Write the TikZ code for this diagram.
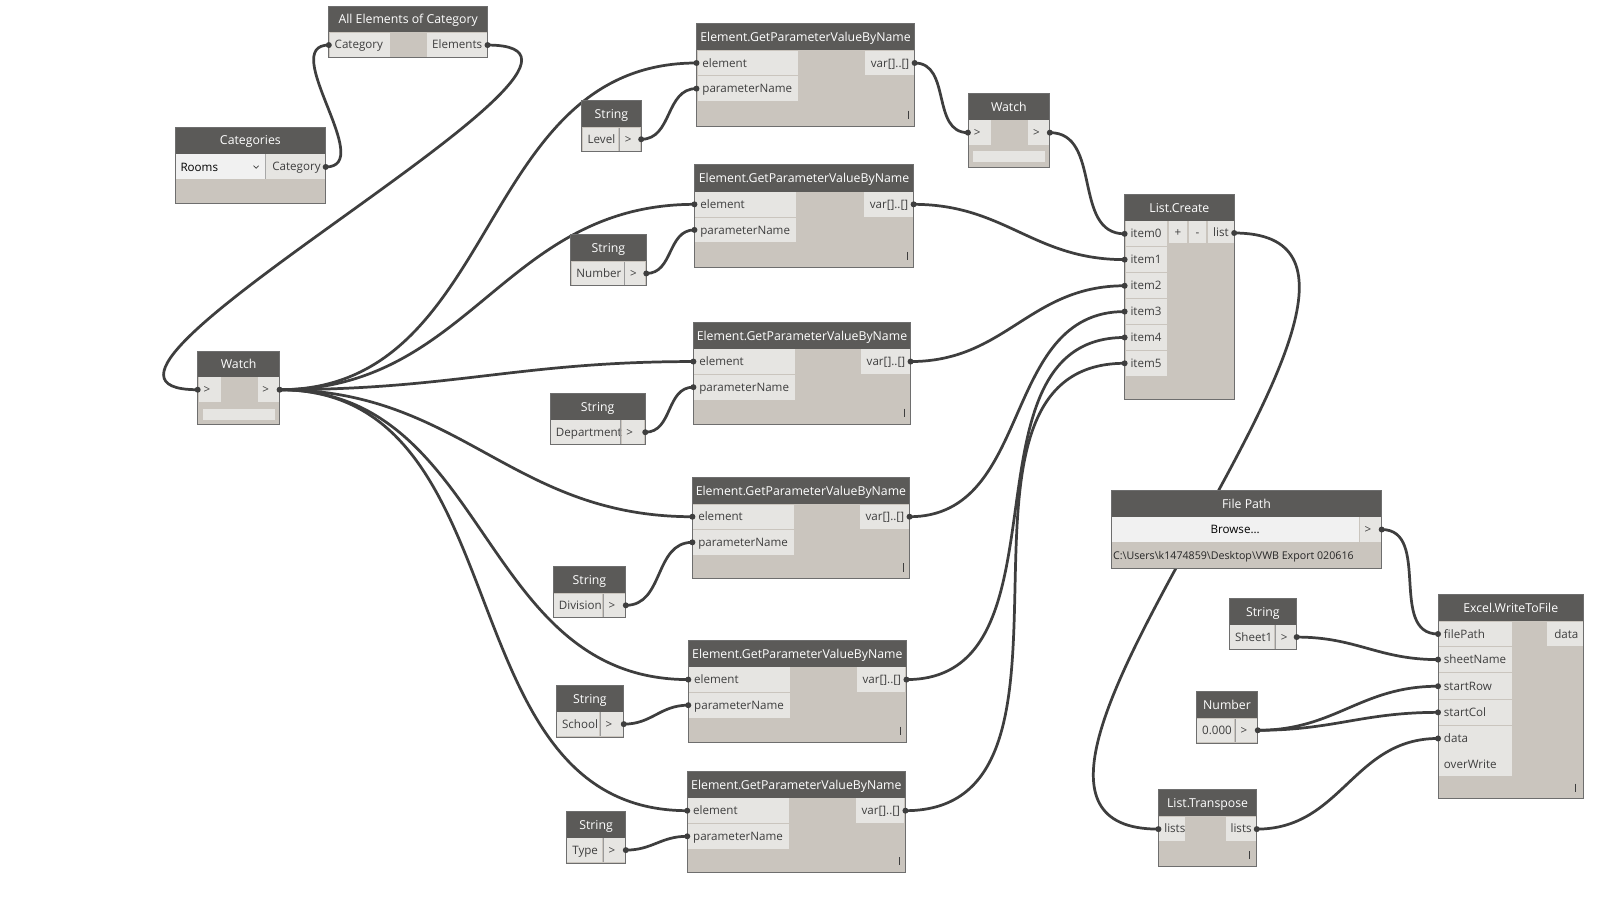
\documentclass[tikz,border=0pt]{standalone}
\usepackage{fontspec}
\setmainfont{Open Sans}
\usetikzlibrary{calc,fit}
\definecolor{hdr}{RGB}{91,90,88}
\definecolor{bodyc}{RGB}{202,197,190}
\definecolor{cellc}{RGB}{230,229,226}
\definecolor{btnc}{RGB}{241,241,241}
\definecolor{edgec}{RGB}{110,110,110}
\definecolor{txtc}{RGB}{62,62,62}
\definecolor{wirec}{RGB}{62,62,62}
\newcount\tncount
\tikzset{
  dbody/.style={inner sep=0pt,outer sep=0pt,fill=bodyc},
  htext/.style={text=white,font=\fontsize{9}{10}\selectfont,inner sep=0pt},
  ptext/.style={text=txtc,font=\fontsize{8.5}{10}\selectfont,inner sep=0pt},
  pathtext/.style={text=black!85,font=\fontsize{7.8}{9}\selectfont,inner sep=0pt},
  wire/.style={draw=wirec,line width=2pt},
  edgeline/.style={draw=edgec,line width=0.6pt},
  lace/.style={draw=txtc,line width=0.6pt},
}
\newcommand{\tx}[3]{\global\advance\tncount by 1\relax
  \node[#1] (tx\the\tncount) at #2 {#3};}
\newcommand{\dhead}[7]{%
  \node[dbody,fit={(#2,#3) (#4,#5)}] (#1) {};
  \fill[hdr] ({#2},{#3}) rectangle ({#4},{#6});
  \tx{htext,anchor=base}{({(#2+#4)/2},{(#3+#6)/2+4.5})}{#7}}
\newcommand{\dedge}[4]{\draw[edgeline] ({#1},{#2}) rectangle ({#3},{#4});}
\newcommand{\cL}[5]{\fill[cellc] ({#1},{#2}) rectangle ({#3},{#4});
  \tx{ptext,anchor=base west}{({#1+4.5},{(#2+#4)/2+4})}{#5}}
\newcommand{\cR}[5]{\fill[cellc] ({#1},{#2}) rectangle ({#3},{#4});
  \tx{ptext,anchor=base east}{({#3-4},{(#2+#4)/2+4})}{#5}}
\newcommand{\cC}[5]{\fill[cellc] ({#1},{#2}) rectangle ({#3},{#4});
  \tx{ptext,anchor=base}{({(#1+#3)/2},{(#2+#4)/2+4})}{#5}}
\newcommand{\gnode}[5]{%
  \dhead{#1}{#2}{#3}{#4}{#5}{#3+26}{Element.GetParameterValueByName}
  \cL{#2+1}{#3+26.6}{#2+99}{#3+50.6}{element}
  \cL{#2+1}{#3+51.4}{#2+99}{#3+75.6}{parameterName}
  \cR{#4-48}{#3+26.6}{#4-1}{#3+50.6}{var[]..[]}
  \draw[lace] ({#4-6},{#5-15}) -- ({#4-6},{#5-7});
  \dedge{#2}{#3}{#4}{#5}}
\newcommand{\snode}[8]{%
  \dhead{#1}{#2}{#3}{#4}{#5}{#3+26}{#8}
  \cL{#2+1}{#3+26.5}{#6}{#5-0.8}{#7}
  \cL{#6+1.5}{#3+26.5}{#4-1}{#5-0.8}{>}
  \draw[edgec!70,line width=0.4pt] ({#6+0.7},{#3+26.5}) -- ({#6+0.7},{#5-0.8});
  \dedge{#2}{#3}{#4}{#5}}
\newcommand{\wire}[2]{%
  \draw[wire] let \p1=(#1), \p2=(#2), \n1={0.42*veclen(\x2-\x1,\y2-\y1)} in
    (#1) .. controls ($(#1)+(\n1,0pt)$) and ($(#2)-(\n1,0pt)$) .. (#2);}
\newcommand{\nub}[1]{\fill[wirec] (#1) circle[radius=2.2pt];}
\begin{document}
\begin{tikzpicture}[x=0.75pt,y=-0.75pt]
\fill[white] (0,0) rectangle (1568,877);
\useasboundingbox (0,0) rectangle (1568,877);
% ---------- port coordinates ----------
\coordinate (cat-out) at (318,163);
\coordinate (ae-in) at (321,44);
\coordinate (ae-out) at (476,44);
\coordinate (w1-in) at (193,380.5);
\coordinate (w1-out) at (273,380.5);
\coordinate (w2-in) at (945,129.5);
\coordinate (w2-out) at (1025,129.5);
\coordinate (lc-i0) at (1098,228.3);
\coordinate (lc-i1) at (1098,253.5);
\coordinate (lc-i2) at (1098,279);
\coordinate (lc-i3) at (1098,304.2);
\coordinate (lc-i4) at (1098,329.5);
\coordinate (lc-i5) at (1098,354.7);
\coordinate (lc-out) at (1205,227.5);
\coordinate (fp-out) at (1349,517);
\coordinate (xl-fp) at (1404,619);
\coordinate (xl-sn) at (1404,644);
\coordinate (xl-sr) at (1404,670);
\coordinate (xl-sc) at (1404,695.5);
\coordinate (xl-da) at (1404,721);
\coordinate (lt-in) at (1131,809.5);
\coordinate (lt-out) at (1227,809.5);
\coordinate (g1-el) at (680,61.5); \coordinate (g1-pn) at (680,86.5); \coordinate (g1-out) at (893,61.5);
\coordinate (g2-el) at (678,199.5); \coordinate (g2-pn) at (678,224.5); \coordinate (g2-out) at (892,199.5);
\coordinate (g3-el) at (677,353); \coordinate (g3-pn) at (677,378); \coordinate (g3-out) at (889,353);
\coordinate (g4-el) at (676,504.5); \coordinate (g4-pn) at (676,529.5); \coordinate (g4-out) at (888,504.5);
\coordinate (g5-el) at (672,663.5); \coordinate (g5-pn) at (672,688.5); \coordinate (g5-out) at (885,663.5);
\coordinate (g6-el) at (671,791.5); \coordinate (g6-pn) at (671,816.5); \coordinate (g6-out) at (884,791.5);
\coordinate (s1-out) at (626,136); \coordinate (s2-out) at (631,267); \coordinate (s3-out) at (630,422);
\coordinate (s4-out) at (611,591); \coordinate (s5-out) at (609,707); \coordinate (s6-out) at (611,830);
\coordinate (s7-out) at (1266,622); \coordinate (num-out) at (1228,713);
% ---------- wires ----------
\wire{cat-out}{ae-in}
\wire{ae-out}{w1-in}
\wire{w1-out}{g1-el}
\wire{w1-out}{g2-el}
\wire{w1-out}{g3-el}
\wire{w1-out}{g4-el}
\wire{w1-out}{g5-el}
\wire{w1-out}{g6-el}
\wire{s1-out}{g1-pn}
\wire{s2-out}{g2-pn}
\wire{s3-out}{g3-pn}
\wire{s4-out}{g4-pn}
\wire{s5-out}{g5-pn}
\wire{s6-out}{g6-pn}
\wire{g1-out}{w2-in}
\wire{w2-out}{lc-i0}
\wire{g2-out}{lc-i1}
\wire{g3-out}{lc-i2}
\wire{g4-out}{lc-i3}
\wire{g5-out}{lc-i4}
\wire{g6-out}{lc-i5}
\wire{lc-out}{lt-in}
\wire{fp-out}{xl-fp}
\wire{s7-out}{xl-sn}
\wire{num-out}{xl-sr}
\wire{num-out}{xl-sc}
\wire{lt-out}{xl-da}
% ---------- All Elements of Category ----------
\dhead{ae}{321}{6}{476}{56}{31.5}{All Elements of Category}
\cL{322}{32}{381}{55.5}{Category}
\cR{417}{32}{475}{55.5}{Elements}
\dedge{321}{6}{476}{56}
% ---------- Categories ----------
\dhead{cat}{171}{124}{318}{199}{150}{Categories}
\fill[btnc] (172,150.8) rectangle (258.5,175);
\tx{ptext,anchor=base west,text=black}{(176,167)}{Rooms}
\draw[txtc,line width=0.5pt] (247.5,161.8) -- (250,164.3) -- (252.5,161.8);
\draw[edgec!60,line width=0.4pt] (259.2,150.8) -- (259.2,175);
\cR{260}{150.8}{317.3}{175}{Category}
\dedge{171}{124}{318}{199}
% ---------- Watch (left) ----------
\dhead{w1}{193}{343}{273}{414}{368}{Watch}
\cL{194}{368.5}{215.5}{392.2}{>}
\cL{251.5}{368.5}{272.3}{392.2}{>}
\fill[cellc] (198.5,399.5) rectangle (268.5,410);
\dedge{193}{343}{273}{414}
% ---------- GetParameterValueByName ----------
\gnode{g1}{680}{23}{893}{123}
\gnode{g2}{678}{161}{892}{261}
\gnode{g3}{677}{314.5}{889}{414}
\gnode{g4}{676}{466}{888}{565}
\gnode{g5}{672}{625}{885}{724.5}
\gnode{g6}{671}{753}{884}{852}
% ---------- Strings ----------
\snode{s1}{568}{98}{626}{148}{603.7}{Level}{String}
\snode{s2}{557}{229}{631}{279}{609}{Number}{String}
\snode{s3}{537}{384}{630}{434}{605.3}{Department}{String}
\snode{s4}{540}{553}{611}{603}{588}{Division}{String}
\snode{s5}{543}{669}{609}{719.5}{585}{School}{String}
\snode{s6}{553}{792}{611}{842.5}{588}{Type}{String}
% ---------- Watch (right) ----------
\dhead{w2}{945}{91}{1025}{163}{117}{Watch}
\cL{946}{117.5}{967.5}{141.5}{>}
\cL{1004}{117.5}{1024.3}{141.5}{>}
\fill[cellc] (950,147) rectangle (1020.5,158.5);
\dedge{945}{91}{1025}{163}
% ---------- List.Create ----------
\dhead{lc}{1098}{190}{1205}{390}{215.5}{List.Create}
\cL{1099}{216.2}{1139.7}{240.5}{item0}
\cL{1099}{241.3}{1139.7}{265.8}{item1}
\cL{1099}{266.6}{1139.7}{291.2}{item2}
\cL{1099}{292}{1139.7}{316.2}{item3}
\cL{1099}{317}{1139.7}{341.6}{item4}
\cL{1099}{342.4}{1139.7}{366.8}{item5}
\cC{1141.3}{216.2}{1158.6}{237.5}{+}
\cC{1160.8}{216.2}{1177.5}{237.5}{-}
\cL{1179.7}{216.2}{1204.4}{237.5}{list}
\dedge{1098}{190}{1205}{390}
% ---------- File Path ----------
\dhead{fp}{1085}{479}{1349}{554.5}{504.5}{File Path}
\fill[btnc] (1085.6,505) rectangle (1326.5,529.5);
\tx{ptext,anchor=base,text=black}{(1206,521.3)}{Browse...}
\cL{1327.5}{505}{1348.4}{529.5}{>}
\tx{pathtext,anchor=base west}{(1086.5,546.3)}{C:\textbackslash Users\textbackslash k1474859\textbackslash Desktop\textbackslash VWB Export 020616}
\dedge{1085}{479}{1349}{554.5}
% ---------- String Sheet1 / Number ----------
\snode{s7}{1200}{584}{1266}{634.5}{1244.3}{Sheet1}{String}
\snode{num}{1168}{675}{1228}{725.5}{1205}{0.000}{Number}
% ---------- Excel.WriteToFile ----------
\dhead{xl}{1404}{580}{1546}{780}{606.5}{Excel.WriteToFile}
\cL{1405}{607}{1475.8}{631}{filePath}
\cL{1405}{632}{1475.8}{656.4}{sheetName}
\cL{1405}{657.2}{1475.8}{682.3}{startRow}
\cL{1405}{683.1}{1475.8}{707.7}{startCol}
\fill[cellc] (1405,708.5) rectangle (1475.8,757.3);
\tx{ptext,anchor=base west}{(1409.5,725)}{data}
\tx{ptext,anchor=base west}{(1409.5,750.5)}{overWrite}
\cR{1510}{607}{1545.3}{631}{data}
\draw[lace] (1538,765) -- (1538,773);
\dedge{1404}{580}{1546}{780}
% ---------- List.Transpose ----------
\dhead{lt}{1131}{771}{1227}{846}{797}{List.Transpose}
\cL{1132}{797.5}{1156.5}{821}{lists}
\cR{1197}{797.5}{1226.3}{821}{lists}
\draw[lace] (1220,831) -- (1220,839);
\dedge{1131}{771}{1227}{846}
% ---------- port nubs ----------
\foreach \p in {cat-out,ae-in,ae-out,w1-in,w1-out,w2-in,w2-out,lc-i0,lc-i1,lc-i2,lc-i3,lc-i4,lc-i5,lc-out,
  fp-out,xl-fp,xl-sn,xl-sr,xl-sc,xl-da,lt-in,lt-out,g1-el,g1-pn,g1-out,g2-el,g2-pn,g2-out,g3-el,g3-pn,g3-out,
  g4-el,g4-pn,g4-out,g5-el,g5-pn,g5-out,g6-el,g6-pn,g6-out,s1-out,s2-out,s3-out,s4-out,s5-out,s6-out,s7-out,num-out}
  {\nub{\p}}
\end{tikzpicture}
\end{document}
